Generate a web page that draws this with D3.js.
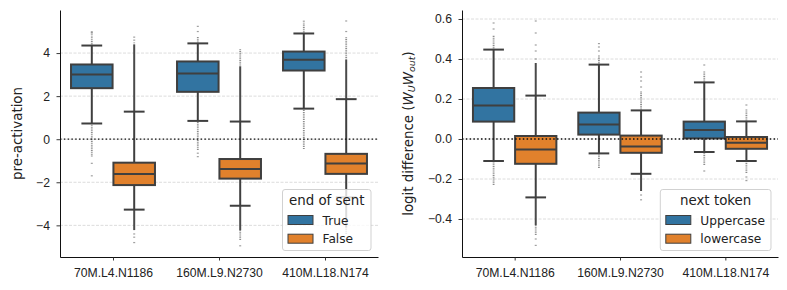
<!DOCTYPE html>
<html>
<head>
<meta charset="utf-8">
<script src="https://cdn.jsdelivr.net/npm/d3@7"></script>
<style>
  body { margin: 0; background: #fff; }
  svg { font-family: "DejaVu Sans", sans-serif; }
</style>
</head>
<body>
<div id="chart"><svg width="787" height="290"></svg></div>
<script>
const categories = ["70M.L4.N1186", "160M.L9.N2730", "410M.L18.N174"];

// [lower whisker, q1, median, q3, upper whisker] per category
const preTrueStats = [[0.73, 2.37, 3.0, 3.47, 4.35], [0.85, 2.2, 3.05, 3.61, 4.45], [1.42, 3.19, 3.69, 4.07, 4.91]];
const preFalseStats = [[-3.27, -2.13, -1.61, -1.09, 1.28], [-3.09, -1.83, -1.38, -0.92, 0.82], [-2.7, -1.61, -1.13, -0.68, 1.86]];
// outliers: packed runs [from, to], loosely packed runs, single points
const preTrueDense = [[], [], []];
const preTrueLoose = [[[4.35, 4.8], [-0.8, 0.73]], [[4.45, 4.77], [-0.5, 0.85]], [[4.91, 5.42], [-0.45, 1.42]]];
const preTrueDots = [[4.88, 4.95, 4.99, -1.12, -1.7], [5.0, 5.24, -0.65, -0.81], [5.48]];
const preFalseDense = [[[1.28, 4.39], [-4.22, -3.27]], [[0.82, 3.38], [-4.22, -3.09]], [[1.86, 3.69], [-4.1, -2.7]]];
const preFalseLoose = [[[4.39, 4.5]], [[3.38, 4.19], [-4.68, -4.22]], [[3.69, 4.77], [-4.4, -4.1]]];
const preFalseDots = [[4.6, 4.74, -4.4, -4.55, -4.8], [-4.95], [5.0, 5.49, -4.65]];

const logitUpStats = [[-0.11, 0.087, 0.167, 0.255, 0.447], [-0.072, 0.022, 0.073, 0.132, 0.372], [-0.065, 0.003, 0.045, 0.087, 0.283]];
const logitLowStats = [[-0.292, -0.124, -0.052, 0.015, 0.217], [-0.174, -0.069, -0.037, 0.017, 0.143], [-0.11, -0.049, -0.019, 0.01, 0.088]];
const logitUpDense = [[], [], []];
const logitUpLoose = [[[0.447, 0.52], [-0.23, -0.11]], [[0.372, 0.42], [-0.145, -0.072]], [[0.283, 0.34], [-0.13, -0.065]]];
const logitUpDots = [[0.55, 0.58], [0.44, 0.46, 0.477], [0.37, -0.16]];
const logitLowDense = [[[0.217, 0.38], [-0.43, -0.292]], [[-0.26, -0.174]], []];
const logitLowLoose = [[[-0.48, -0.43]], [[0.143, 0.24]], [[0.088, 0.15], [-0.17, -0.11]]];
const logitLowDots = [[0.4, 0.44, 0.47, 0.53, 0.59, -0.5, -0.532], [0.26, 0.29, 0.31, 0.335, -0.28, -0.304], [0.17, -0.19, -0.208]];

const preTicks = [-4, -2, 0, 2, 4];
const logitTicks = [-0.4, -0.2, 0.0, 0.2, 0.4, 0.6];
const preHue = ["True", "False"];
const logitHue = ["Uppercase", "lowercase"];

const colors = ["#3274a1", "#e1812c"];
const edge = "#3f3f3f";
const plotTop = 10;
const plotBottom = 257;

const svg = d3.select("#chart").select("svg");

function drawPanel(p) {
  const x = d3.scaleLinear().domain([-0.5, 2.5]).range([p.left, p.right]);
  const y = d3.scaleLinear().domain(p.yDomain).range([plotBottom, plotTop]);
  const g = svg.append("g");

  // grid
  g.selectAll(".grid")
    .data(p.ticks)
    .enter()
    .append("line")
    .attr("x1", p.left)
    .attr("x2", p.right)
    .attr("y1", (d) => y(d))
    .attr("y2", (d) => y(d))
    .attr("stroke", "#d3d3d3")
    .attr("stroke-width", 0.8)
    .attr("stroke-dasharray", "3,1.5");

  const boxW = x(0.392) - x(0);
  const groups = [
    { stats: p.stats[0], dense: p.dense[0], loose: p.loose[0], dots: p.dots[0], off: -0.2, color: colors[0] },
    { stats: p.stats[1], dense: p.dense[1], loose: p.loose[1], dots: p.dots[1], off: 0.2, color: colors[1] },
  ];

  groups.forEach((grp) => {
    categories.forEach((c, i) => {
      const cx = x(i + grp.off);
      const [lo, q1, med, q3, hi] = grp.stats[i];

      // outliers
      grp.loose[i].forEach((r) => {
        g.append("line")
          .attr("x1", cx).attr("x2", cx)
          .attr("y1", y(r[0])).attr("y2", y(r[1]))
          .attr("stroke", "#666")
          .attr("stroke-opacity", 0.75)
          .attr("stroke-width", 1.8)
          .attr("stroke-dasharray", "1,0.8");
      });
      grp.dense[i].forEach((r) => {
        g.append("line")
          .attr("x1", cx).attr("x2", cx)
          .attr("y1", y(r[0])).attr("y2", y(r[1]))
          .attr("stroke", "#4a4a4a")
          .attr("stroke-width", 2);
      });
      g.selectAll(null)
        .data(grp.dots[i])
        .enter()
        .append("rect")
        .attr("x", cx - 1)
        .attr("y", (d) => y(d) - 0.6)
        .attr("width", 2)
        .attr("height", 1.2)
        .attr("fill", "#777")
        .attr("fill-opacity", 0.7);

      // whiskers and caps
      [[q1, lo], [q3, hi]].forEach(([a, b]) => {
        g.append("line")
          .attr("x1", cx).attr("x2", cx)
          .attr("y1", y(a)).attr("y2", y(b))
          .attr("stroke", edge)
          .attr("stroke-width", 2);
        g.append("line")
          .attr("x1", cx - boxW / 4).attr("x2", cx + boxW / 4)
          .attr("y1", y(b)).attr("y2", y(b))
          .attr("stroke", edge)
          .attr("stroke-width", 2);
      });

      g.append("rect")
        .attr("x", cx - boxW / 2)
        .attr("y", y(q3))
        .attr("width", boxW)
        .attr("height", y(q1) - y(q3))
        .attr("fill", grp.color)
        .attr("stroke", edge)
        .attr("stroke-width", 2);

      g.append("line")
        .attr("x1", cx - boxW / 2).attr("x2", cx + boxW / 2)
        .attr("y1", y(med)).attr("y2", y(med))
        .attr("stroke", edge)
        .attr("stroke-width", 2);
    });
  });

  // zero line
  g.append("line")
    .attr("x1", p.left)
    .attr("x2", p.right)
    .attr("y1", y(0))
    .attr("y2", y(0))
    .attr("stroke", "#111")
    .attr("stroke-width", 1.3)
    .attr("stroke-dasharray", "1.5,2.3");

  // axes
  const yAxis = d3.axisLeft(y).tickValues(p.ticks).tickSize(3.5).tickSizeOuter(0).tickPadding(6.5).tickFormat(p.fmt);
  const xAxis = d3.axisBottom(x).tickValues([0, 1, 2]).tickSize(3.5).tickSizeOuter(0).tickPadding(6).tickFormat((d) => categories[d]);

  const ya = g.append("g").attr("transform", `translate(${p.left},0)`).call(yAxis);
  const xa = g.append("g").attr("transform", `translate(0,${plotBottom})`).call(xAxis);
  [ya, xa].forEach((a) => {
    a.selectAll("text").attr("fill", "#222").style("font-size", "12.2px");
    a.selectAll("line").attr("stroke", "#222").attr("stroke-width", 0.9);
    a.select(".domain").attr("stroke", "#111").attr("stroke-width", 1);
  });
  xa.selectAll("text").attr("dy", "0.85em");

  // y label
  const lab = g.append("text")
    .attr("transform", `translate(${p.labelX},${(plotTop + plotBottom) / 2}) rotate(-90)`)
    .attr("text-anchor", "middle")
    .attr("dy", "0.35em")
    .style("font-size", "13.4px")
    .attr("fill", "#222");
  p.label(lab);

  // legend
  const lg = svg.append("g").attr("transform", `translate(${p.right - 7 - p.legendW},${plotBottom - 6.5 - 61})`);
  lg.append("rect")
    .attr("width", p.legendW)
    .attr("height", 61)
    .attr("rx", 2.5)
    .attr("fill", "#fff")
    .attr("fill-opacity", 0.8)
    .attr("stroke", "#cccccc")
    .attr("stroke-width", 0.9);
  lg.append("text")
    .attr("x", p.legendW / 2)
    .attr("y", 15)
    .attr("text-anchor", "middle")
    .style("font-size", "13.4px")
    .attr("fill", "#222")
    .text(p.title);
  p.hue.forEach((h, k) => {
    lg.append("rect")
      .attr("x", 5.5)
      .attr("y", 26 + k * 18.7)
      .attr("width", 25)
      .attr("height", 9)
      .attr("fill", colors[k])
      .attr("stroke", edge)
      .attr("stroke-width", 1);
    lg.append("text")
      .attr("x", 40)
      .attr("y", 35 + k * 18.7)
      .style("font-size", "12.2px")
      .attr("fill", "#222")
      .text(h);
  });
}

drawPanel({
  left: 60, right: 378, yDomain: [-5.47, 6.0], ticks: preTicks,
  stats: [preTrueStats, preFalseStats],
  dense: [preTrueDense, preFalseDense],
  loose: [preTrueLoose, preFalseLoose],
  dots: [preTrueDots, preFalseDots],
  fmt: d3.format("d"),
  labelX: 17.5,
  label: (t) => t.text("pre-activation"),
  title: "end of sent", hue: preHue, legendW: 88.5,
});

drawPanel({
  left: 462, right: 778, yDomain: [-0.59, 0.645], ticks: logitTicks,
  stats: [logitUpStats, logitLowStats],
  dense: [logitUpDense, logitLowDense],
  loose: [logitUpLoose, logitLowLoose],
  dots: [logitUpDots, logitLowDots],
  fmt: d3.format(".1f"),
  labelX: 408,
  label: (t) => {
    t.append("tspan").text("logit difference (");
    t.append("tspan").style("font-style", "italic").text("W");
    t.append("tspan").style("font-style", "italic").style("font-size", "9.5px").attr("dy", "2.5").text("U");
    t.append("tspan").style("font-style", "italic").attr("dy", "-2.5").text("W");
    t.append("tspan").style("font-style", "italic").style("font-size", "9.5px").attr("dy", "2.5").text("out");
    t.append("tspan").attr("dy", "-2.5").text(")");
  },
  title: "next token", hue: logitHue, legendW: 110.7,
});
</script>
</body>
</html>
